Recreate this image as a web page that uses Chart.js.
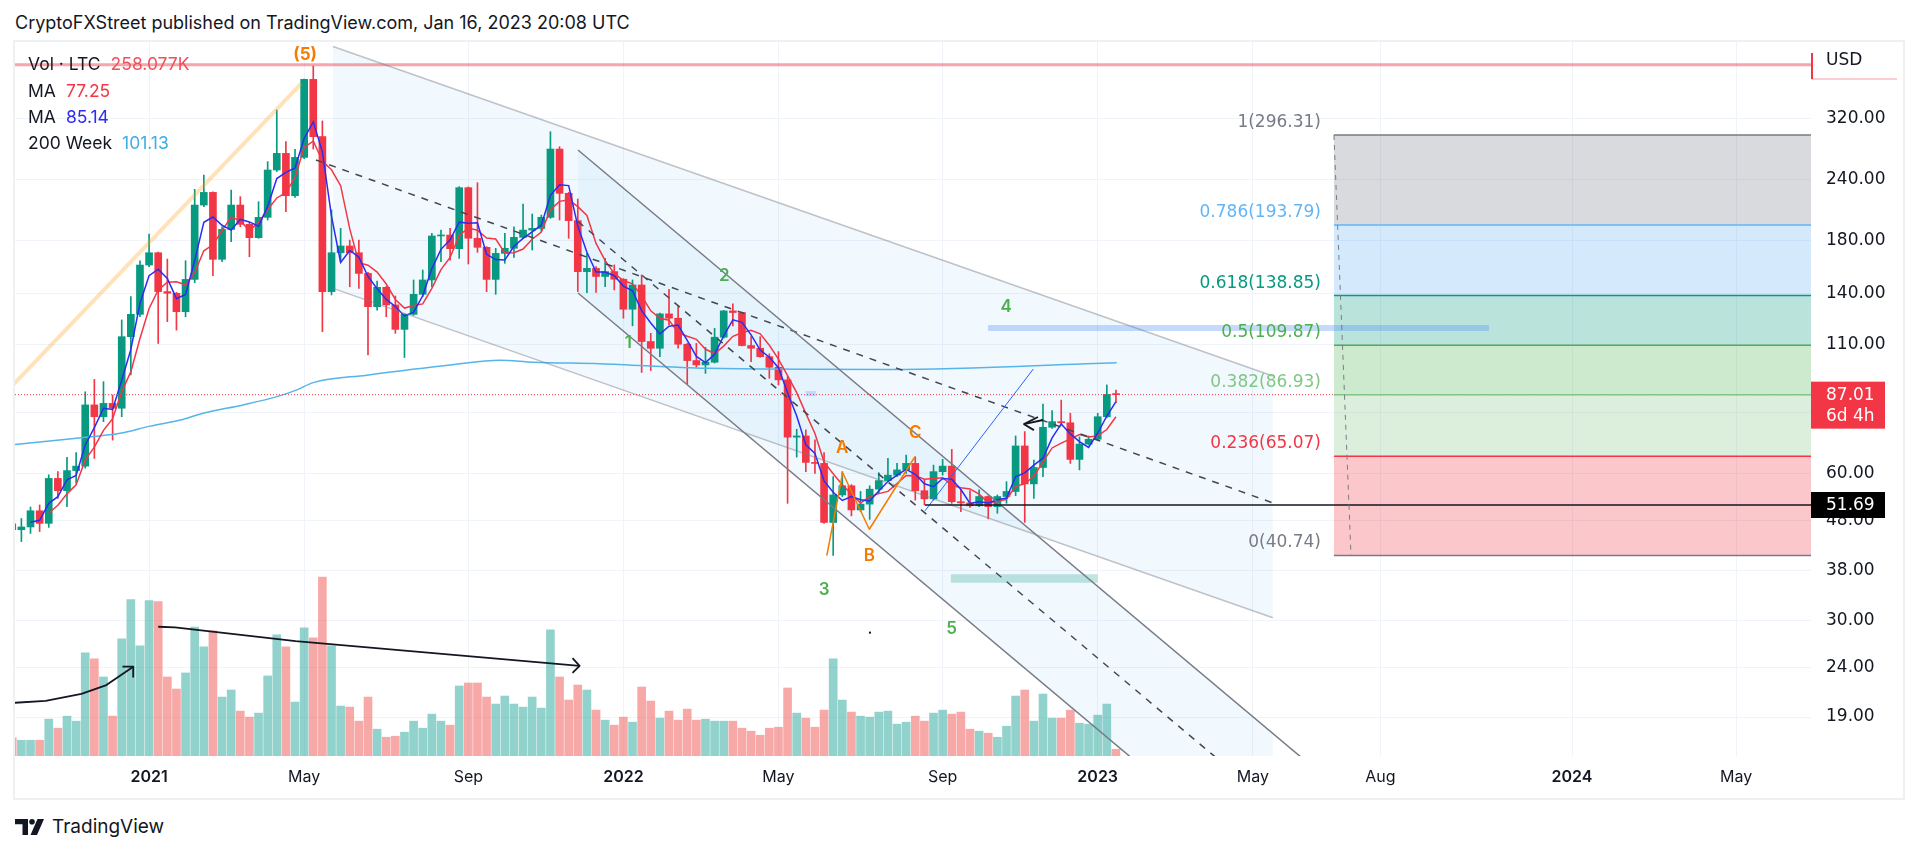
<!DOCTYPE html>
<html>
<head>
<meta charset="utf-8">
<title>LTC/USD weekly — CryptoFXStreet</title>
<script src="https://cdn.jsdelivr.net/npm/chart.js@4.4.1/dist/chart.umd.min.js"></script>
<style>
  html, body { margin: 0; padding: 0; background: #fff; }
  body { width: 1919px; height: 852px; position: relative; overflow: hidden;
         font-family: Inter, 'Noto Sans', sans-serif; color: #131722; }
  #title  { position: absolute; left: 15px; top: 12px; font-size: 18px; line-height: 21px; white-space: nowrap; }
  #frame  { position: absolute; left: 13px; top: 40px; width: 1888px; height: 756px; border: 2px solid #eef0f3; }
  #wrap   { position: absolute; left: 15px; top: 42px; width: 1888px; height: 756px; }
  .leg    { position: absolute; left: 28px; font-size: 17.5px; line-height: 20px; white-space: nowrap; z-index: 2; }
  .leg b  { font-weight: 400; margin-left: 10px; }
  #logo   { position: absolute; left: 15px; top: 815px; display: flex; align-items: center; gap: 8px;
            font-size: 19px; color: #131722; }
</style>
</head>
<body>
<div id="title">CryptoFXStreet published on TradingView.com, Jan 16, 2023 20:08 UTC</div>
<div id="frame"></div>
<div id="wrap"><canvas id="ltc" width="1888" height="756"></canvas></div>

<div class="leg" style="top:54px">Vol · LTC<b style="color:#f0505c">258.077K</b></div>
<div class="leg" style="top:81px">MA<b style="color:#f23645">77.25</b></div>
<div class="leg" style="top:107px">MA<b style="color:#2b2bf5">85.14</b></div>
<div class="leg" style="top:133px">200 Week<b style="color:#3eaee8">101.13</b></div>

<div id="logo">
  <svg width="29" height="16" viewBox="0 0 29 16"><path d="M0 0h13v16H7.5V5.2H0z" fill="#131722"/><circle cx="17" cy="2.8" r="2.8" fill="#131722"/><path d="M22.5 0H29l-7 16h-6.5z" fill="#131722"/></svg>
  <span>TradingView</span>
</div>

<script>
// ══════════════════════════════════════════════════════════════
// DATA — LTC/USD weekly, first bar = week of 21 Sep 2020
// ══════════════════════════════════════════════════════════════
const opens = [
    47.3, 46.0, 46.6, 50.3, 47.4, 58.6, 55.3, 60.8, 62.1, 82.9,
    78.4, 83.5, 81.6, 114.4, 127.1, 160.4, 170.0, 141.5, 140.4, 128.7,
    149.9, 212.9, 226.0, 164.8, 189.8, 212.9, 194.4, 182.5, 200.9, 251.2,
    271.7, 222.5, 266.6, 385.3, 294.0, 141.5, 170.0, 175.5, 170.0, 154.2,
    131.8, 144.4, 132.9, 118.4, 127.1, 139.7, 149.5, 184.0, 184.8, 173.3,
    231.1, 182.0, 174.4, 149.9, 169.5, 173.6, 182.8, 189.2, 190.7, 200.9,
    277.3, 225.0, 197.8, 155.5, 157.9, 152.0, 155.5, 150.0, 130.2, 146.0,
    111.8, 108.3, 127.4, 124.8, 110.4, 102.2, 100.1, 101.4, 114.1, 129.2,
    128.2, 109.7, 108.3, 104.1, 99.0, 93.3, 71.2, 71.6, 63.2, 62.9,
    47.6, 54.2, 56.6, 50.5, 51.9, 55.7, 58.0, 59.5, 61.0, 62.9,
    55.3, 53.2, 60.5, 62.1, 52.5, 52.2, 51.5, 53.8, 51.3, 53.8,
    55.1, 68.3, 57.1, 61.7, 74.6, 76.6, 76.2, 64.1, 68.9, 70.5,
    78.4, 87.1
];
const highs = [
    48.0, 48.5, 51.2, 51.7, 59.6, 60.5, 64.7, 66.2, 88.2, 93.5,
    92.5, 86.9, 123.8, 138.2, 163.7, 185.7, 170.5, 165.0, 141.0, 163.7,
    229.3, 245.3, 226.5, 192.2, 228.5, 221.5, 196.0, 216.3, 261.3, 333.4,
    287.1, 276.9, 386.0, 410.3, 316.6, 208.0, 190.7, 180.5, 180.5, 155.0,
    148.8, 145.0, 138.6, 127.5, 149.5, 156.7, 186.3, 189.2, 190.7, 232.2,
    232.0, 236.6, 175.0, 173.6, 186.3, 192.2, 213.9, 204.1, 203.1, 301.0,
    280.4, 226.0, 219.1, 169.5, 159.2, 165.6, 160.5, 150.5, 149.5, 153.1,
    116.2, 127.8, 143.1, 131.8, 110.8, 110.8, 108.8, 119.0, 129.5, 133.5,
    128.5, 114.4, 114.4, 105.5, 106.6, 94.7, 73.9, 73.7, 70.3, 66.2,
    59.1, 60.5, 56.9, 55.1, 56.6, 60.2, 64.4, 62.9, 65.4, 64.9,
    58.2, 62.4, 64.1, 67.2, 55.5, 55.3, 55.5, 54.0, 54.2, 57.7,
    71.6, 73.1, 63.9, 83.2, 80.7, 84.8, 79.7, 71.3, 71.6, 79.7,
    91.1, 88.9
];
const lows = [
    44.8, 43.5, 45.2, 45.6, 46.5, 53.3, 51.3, 57.3, 61.5, 64.4,
    76.6, 70.2, 78.4, 95.5, 125.7, 159.2, 110.8, 122.8, 118.0, 125.7,
    147.6, 211.3, 152.5, 163.0, 179.1, 192.2, 166.8, 182.0, 198.4, 249.3,
    206.3, 220.8, 265.0, 277.3, 117.1, 139.3, 163.0, 144.8, 143.7, 104.9,
    129.7, 125.7, 116.2, 103.7, 126.5, 138.2, 144.8, 163.0, 164.2, 165.5,
    161.2, 170.3, 141.5, 139.7, 161.7, 166.3, 182.0, 172.2, 188.0, 200.0,
    198.4, 182.0, 141.5, 140.8, 140.9, 144.9, 142.6, 124.8, 120.4, 96.6,
    97.5, 104.1, 120.9, 108.3, 91.5, 99.0, 96.2, 101.0, 113.6, 120.4,
    109.5, 101.7, 103.8, 94.0, 91.1, 52.1, 64.8, 60.5, 60.0, 47.4,
    40.74, 53.8, 49.1, 50.1, 48.3, 54.6, 57.7, 59.1, 60.0, 52.9,
    51.7, 52.9, 59.5, 52.1, 50.1, 51.1, 51.3, 48.4, 49.7, 52.1,
    54.0, 47.6, 53.3, 59.1, 74.2, 75.4, 62.9, 61.0, 68.6, 70.2,
    78.0, 83.8
];
const closes = [
    46.0, 46.6, 50.3, 47.4, 58.6, 55.3, 60.8, 62.1, 82.9, 78.4,
    83.5, 81.6, 114.4, 127.1, 160.4, 170.0, 141.5, 140.4, 128.7, 149.9,
    212.9, 226.0, 164.8, 189.8, 212.9, 194.4, 182.5, 200.9, 251.2, 271.7,
    222.5, 266.6, 385.3, 294.0, 141.5, 170.0, 175.5, 170.0, 154.2, 131.8,
    144.4, 132.9, 118.4, 127.1, 139.7, 149.5, 184.0, 184.8, 173.3, 231.1,
    182.0, 174.4, 149.9, 169.5, 173.6, 182.8, 189.2, 190.7, 200.9, 277.3,
    225.0, 197.8, 155.5, 157.9, 152.0, 155.5, 150.0, 130.2, 146.0, 111.8,
    108.3, 127.4, 124.8, 110.4, 102.2, 100.1, 101.4, 114.1, 129.2, 128.2,
    109.7, 108.3, 104.1, 99.0, 93.3, 71.2, 71.6, 63.2, 62.9, 47.6,
    54.2, 56.6, 50.5, 51.9, 55.7, 58.0, 59.5, 61.0, 62.9, 55.3,
    53.2, 60.5, 62.1, 52.5, 52.2, 51.5, 53.8, 51.3, 53.8, 55.1,
    68.3, 57.1, 61.7, 74.6, 76.6, 76.2, 64.1, 68.9, 70.5, 78.4,
    87.1, 87.01
];
// weekly volume, thousand LTC
const volumes = [
    697, 606, 606, 606, 1419, 1071, 1535, 1342, 3973, 3741,
    3044, 1535, 4515, 6024, 4244, 5986, 5947, 3044, 2580, 3199,
    4967, 4205, 4825, 2270, 2541, 1729, 1496, 1651, 3083, 4670,
    4205, 2077, 4941, 4554, 6889, 4244, 1922, 1883, 1342, 2270,
    1032, 722, 761, 916, 1342, 1071, 1613, 1342, 1187, 2696,
    2812, 2812, 2270, 2000, 2309, 2000, 1883, 2270, 1845, 4863,
    3044, 2154, 2735, 2541, 1767, 1380, 1187, 1496, 1303, 2657,
    2116, 1458, 1729, 1380, 1806, 1380, 1419, 1342, 1342, 1342,
    1071, 955, 800, 1071, 1109, 2619, 1651, 1458, 1109, 1767,
    3741, 2154, 1690, 1535, 1496, 1690, 1729, 1226, 1303, 1535,
    1342, 1651, 1767, 1613, 1690, 1032, 955, 877, 722, 1148,
    2309, 2541, 1342, 2387, 1458, 1458, 1767, 1264, 1226, 1574,
    2000, 258.077
];
// 200-week MA (week index, price)
const ma200Week  = [-0.25, 7.06, 11.81, 15.1, 18.71, 20.91, 25.29, 29.02, 31.21, 33.0, 38.86, 47.99, 53.47, 57.09, 64.43, 76.13, 96.23, 121.08];
const ma200Value = [68.6, 70.8, 72.5, 75.0, 77.4, 79.7, 82.9, 86.2, 89.0, 92.1, 95.4, 100.1, 102.4, 101.4, 100.7, 98.5, 98.0, 101.13];

// axes
const xTickWeek = [15, 32, 50, 67, 84, 102, 119, 136, 150, 171, 189];
const xTickText = ['2021', 'May', 'Sep', '2022', 'May', 'Sep', '2023', 'May', 'Aug', '2024', 'May'];
const yTicks    = [320, 240, 180, 140, 110, 80, 60, 48, 38, 30, 24, 19];

// fibonacci retracement
const fibRatio = ['1', '0.786', '0.618', '0.5', '0.382', '0.236', '0'];
const fibPrice = [296.31, 193.79, 138.85, 109.87, 86.93, 65.07, 40.74];

// drawings, anchored as [week index, price]
const athLevel     = 413;
const lastPrice    = 87.01;
const supportLevel = 51.69;
const orangeRun    = [[-0.3, 89.5], [31.7, 378]];
const bigUpper     = [[35.16, 449.9], [138.2, 95.0]];
const bigLower     = [[35.16, 143.7], [138.2, 30.35]];
const bigMid       = [[33.3, 263.3], [138.2, 52.2]];
const steepUpper   = [[62.02, 276.1], [143.4, 14.57]];
const steepLower   = [[62.02, 140.6], [123.1, 15.45]];
const steepMid     = [[62.02, 197.0], [133.5, 14.85]];
const waveAbc      = [[89.3, 40.7], [91.04, 60.2], [93.96, 46.1], [98.96, 64.9]];
const blueRay      = [[100.07, 50.3], [111.94, 98.2]];
const fibDiag      = [[144.9, 296.31], [146.77, 40.74]];
const targetBand   = [[106.97, 120.9], [161.9, 117.5]];
const tealBand     = [[102.9, 37.3], [119.0, 35.8]];
const smallBox     = [[87.0, 88.5], [88.1, 86.4]];
const volRise      = [[-0.25, 20.3], [3.66, 20.5], [7.58, 21.2], [10.32, 22.1], [13.26, 24.1]];
const volRiseHead  = [[12.08, 24.1], [13.26, 24.1], [13.26, 22.9]];
const volFall      = [[16.0, 29.1], [17.84, 29.0], [31.07, 27.2], [50.26, 25.3], [62.2, 24.2]];
const volFallHead  = [[61.42, 25.1], [62.2, 24.2], [61.42, 23.4]];
const backArrow    = [[112.45, 78.3], [110.92, 75.7], [112.01, 73.6]];
const backShaft    = [[110.92, 75.7], [113.0, 77.2]];
const waveLabels   = [['1', 67.53, 110.9], ['2', 78.06, 152.3], ['3', 89.02, 34.6], ['4', 108.95, 131.4], ['5', 102.99, 28.8]];
const abcLabels    = [['A', 90.99, 67.6], ['B', 93.96, 40.7], ['C', 99.0, 72.5]];
const peakLabel    = ['(5)', 32.1, 432];
const strayDot     = [94.03, 28.3];

// ══════════════════════════════════════════════════════════════
// HELPERS
// ══════════════════════════════════════════════════════════════
const GREEN = '#089981', RED = '#f23645';
const X_MIN = 0.3, X_MAX = 197.2;
const FONT = 'Inter, "Noto Sans", sans-serif';
const NUM  = '"DejaVu Sans", Inter, sans-serif';

const isUp = closes.map((c, k) => c >= opens[k]);
const sma  = n => closes.map((_, k) => k < n - 1 ? null
                 : closes.slice(k - n + 1, k + 1).reduce((s, v) => s + v, 0) / n);

const toPx  = (chart, [i, p]) => [chart.scales.x.getPixelForValue(i), chart.scales.y.getPixelForValue(p)];
const logAt = ([[i0, p0], [i1, p1]], i) =>
    Math.exp(Math.log(p0) + (i - i0) / (i1 - i0) * (Math.log(p1) - Math.log(p0)));

const path = (chart, pts, stroke, width, dash = []) => {
    const { ctx } = chart;
    ctx.beginPath();
    pts.forEach((p, k) => { const [x, y] = toPx(chart, p); k ? ctx.lineTo(x, y) : ctx.moveTo(x, y); });
    ctx.strokeStyle = stroke; ctx.lineWidth = width; ctx.setLineDash(dash);
    ctx.lineJoin = 'round'; ctx.lineCap = 'butt';
    ctx.stroke(); ctx.setLineDash([]);
};
const polygon = (chart, pts, fill) => {
    const { ctx } = chart;
    ctx.beginPath();
    pts.forEach((p, k) => { const [x, y] = toPx(chart, p); k ? ctx.lineTo(x, y) : ctx.moveTo(x, y); });
    ctx.closePath(); ctx.fillStyle = fill; ctx.fill();
};
const box = (chart, [[i0, p0], [i1, p1]], fill) =>
    polygon(chart, [[i0, p0], [i1, p0], [i1, p1], [i0, p1]], fill);
const label = (chart, text, i, p, color, font, align = 'center', base = 'middle') => {
    const { ctx } = chart;
    const [x, y] = toPx(chart, [i, p]);
    ctx.font = font; ctx.fillStyle = color; ctx.textAlign = align; ctx.textBaseline = base;
    ctx.fillText(text, x, y);
};
const clip = ({ ctx, chartArea: a }) => { ctx.beginPath(); ctx.rect(a.left, a.top, a.width, a.height); ctx.clip(); };

// ══════════════════════════════════════════════════════════════
// DRAWINGS PLUGIN
// ══════════════════════════════════════════════════════════════
const fibLine = ['#787b86', '#64b5f6', '#089981', '#4caf50', '#81c784', '#f23645', '#787b86'];
const fibZone = ['rgba(120,123,134,0.28)', 'rgba(100,181,246,0.28)', 'rgba(8,153,129,0.28)',
                 'rgba(76,175,80,0.28)', 'rgba(129,199,132,0.28)', 'rgba(242,54,69,0.28)'];

const drawings = {
    id: 'drawings',
    beforeDatasetsDraw(chart) {
        const { ctx } = chart;
        ctx.save(); clip(chart);
        // channels
        const end = bigUpper[1][0];
        [[bigUpper, bigLower], [steepUpper, steepLower]].forEach(([up, lo]) => {
            const s = up[0][0];
            polygon(chart, [[s, logAt(up, s)], [end, logAt(up, end)], [end, logAt(lo, end)], [s, logAt(lo, s)]],
                    'rgba(33,150,243,0.06)');
        });
        // fib zones
        for (let k = 0; k < fibPrice.length - 1; k++)
            box(chart, [[fibDiag[0][0], fibPrice[k]], [X_MAX, fibPrice[k + 1]]], fibZone[k]);
        box(chart, tealBand, 'rgba(8,153,129,0.25)');
        box(chart, smallBox, 'rgba(41,98,255,0.2)');
        ctx.restore();
    },
    afterDatasetsDraw(chart) {
        const { ctx } = chart;
        ctx.save(); clip(chart);

        path(chart, [[X_MIN, athLevel], [X_MAX, athLevel]], 'rgba(242,54,69,0.45)', 3);
        path(chart, orangeRun, 'rgba(255,152,0,0.28)', 4);

        path(chart, bigUpper, 'rgba(120,123,134,0.45)', 1.5);
        path(chart, bigLower, 'rgba(120,123,134,0.45)', 1.5);
        path(chart, bigMid, '#434651', 1.5, [7, 7]);
        path(chart, steepUpper, '#787b86', 1.5);
        path(chart, steepLower, '#787b86', 1.5);
        path(chart, steepMid, '#434651', 1.5, [7, 7]);

        path(chart, waveAbc, '#f57c00', 1.5);
        path(chart, blueRay, '#2962ff', 1);
        path(chart, [[blueRay[0][0], supportLevel], [X_MAX, supportLevel]], '#131722', 1.5);
        path(chart, [[X_MIN, lastPrice], [X_MAX, lastPrice]], RED, 1, [1, 2]);

        box(chart, targetBand, 'rgba(66,133,244,0.3)');

        // fib levels + labels
        fibPrice.forEach((p, k) => {
            path(chart, [[fibDiag[0][0], p], [X_MAX, p]], fibLine[k], 1.5);
            const [x, y] = toPx(chart, [fibDiag[0][0], p]);
            ctx.font = `17px ${NUM}`; ctx.fillStyle = fibLine[k];
            ctx.textAlign = 'right'; ctx.textBaseline = 'bottom';
            ctx.fillText(`${fibRatio[k]}(${p.toFixed(2)})`, x - 13, y - 4);
        });
        path(chart, fibDiag, '#787b86', 1, [5, 5]);

        // hand-drawn arrows
        [volRise, volRiseHead, volFall, volFallHead, backArrow, backShaft]
            .forEach(pts => path(chart, pts, '#131722', 1.8));
        const [dx, dy] = toPx(chart, strayDot);
        ctx.fillStyle = '#131722'; ctx.fillRect(dx - 1, dy - 1, 2, 2);

        // wave labels
        label(chart, peakLabel[0], peakLabel[1], peakLabel[2], '#f57c00', `bold 17px ${FONT}`);
        waveLabels.forEach(([t, i, p]) => label(chart, t, i, p, '#4caf50', `600 17px ${FONT}`));
        abcLabels.forEach(([t, i, p]) => label(chart, t, i, p, '#f57c00', `600 17px ${FONT}`));
        ctx.restore();
    },
    afterDraw(chart) {
        const { ctx, chartArea: a, scales: { y } } = chart;
        ctx.save();
        // currency label
        ctx.fillStyle = RED; ctx.fillRect(a.right, 11, 2, 26);
        ctx.fillStyle = 'rgba(242,54,69,0.25)'; ctx.fillRect(a.right, 36, 86, 2);
        ctx.font = `17px ${NUM}`; ctx.fillStyle = '#131722';
        ctx.textAlign = 'left'; ctx.textBaseline = 'middle';
        ctx.fillText('USD', a.right + 15, 19);
        // last price badge
        const yp = y.getPixelForValue(lastPrice);
        ctx.fillStyle = RED; ctx.fillRect(a.right, yp - 13, 74, 47);
        ctx.fillStyle = '#fff';
        ctx.fillText(lastPrice.toFixed(2), a.right + 15, yp + 1);
        ctx.fillText('6d 4h', a.right + 15, yp + 22);
        // support badge
        const ys = y.getPixelForValue(supportLevel);
        ctx.fillStyle = '#000'; ctx.fillRect(a.right, ys - 13, 74, 26);
        ctx.fillStyle = '#fff';
        ctx.fillText(supportLevel.toFixed(2), a.right + 15, ys + 1);
        ctx.restore();
    }
};

// ══════════════════════════════════════════════════════════════
// CHART
// ══════════════════════════════════════════════════════════════
const candleColor = isUp.map(u => u ? GREEN : RED);
const volColor    = isUp.map(u => u ? 'rgba(38,166,154,0.5)' : 'rgba(239,83,80,0.5)');

new Chart(document.getElementById('ltc'), {
    type: 'bar',
    data: {
        datasets: [
            { type: 'line', label: 'MA blue', order: 0,
              data: sma(3).map((y, x) => ({ x, y })), borderColor: '#2b2bf5', borderWidth: 1.5,
              pointRadius: 0, yAxisID: 'y' },
            { type: 'line', label: 'MA red', order: 1,
              data: sma(5).map((y, x) => ({ x, y })), borderColor: RED, borderWidth: 1.5,
              pointRadius: 0, yAxisID: 'y' },
            { type: 'line', label: '200 Week', order: 2,
              data: ma200Week.map((x, k) => ({ x, y: ma200Value[k] })), borderColor: '#56b4e9',
              borderWidth: 1.5, pointRadius: 0, cubicInterpolationMode: 'monotone', yAxisID: 'y' },
            { label: 'body', order: 3, grouped: false, barThickness: 7, minBarLength: 1,
              data: opens.map((o, k) => ({ x: k, y: [o, closes[k]] })),
              backgroundColor: candleColor, yAxisID: 'y' },
            { label: 'wick', order: 4, grouped: false, barThickness: 1,
              data: lows.map((l, k) => ({ x: k, y: [l, highs[k]] })),
              backgroundColor: candleColor, yAxisID: 'y' },
            { label: 'Vol', order: 5, grouped: false, barThickness: 8,
              data: volumes.map((v, k) => ({ x: k, y: v })),
              backgroundColor: volColor, yAxisID: 'yv' }
        ]
    },
    options: {
        responsive: false,
        animation: false,
        layout: { padding: 0 },
        plugins: { legend: { display: false }, tooltip: { enabled: false } },
        scales: {
            x: {
                type: 'linear', min: X_MIN, max: X_MAX, offset: false,
                afterBuildTicks: s => { s.ticks = xTickWeek.map(value => ({ value })); },
                afterFit: s => { s.height = 42; s.paddingLeft = 0; s.paddingRight = 0; },
                grid: { color: '#f0f3fa', drawTicks: false, offset: false },
                border: { display: false },
                ticks: {
                    autoSkip: false, maxRotation: 0, padding: 12, color: '#131722',
                    callback: (v, k) => xTickText[k],
                    font: c => ({ family: FONT, size: 16, weight: /^\d{4}$/.test(xTickText[c.index] || '') ? '600' : '400' })
                }
            },
            y: {
                type: 'logarithmic', position: 'right', min: 15.81, max: 459.6,
                afterBuildTicks: s => { s.ticks = yTicks.map(value => ({ value })); },
                afterFit: s => { s.width = 92; s.paddingTop = 0; s.paddingBottom = 0; },
                grid: { color: '#f0f3fa', drawTicks: false },
                border: { display: false },
                ticks: { autoSkip: false, padding: 15, color: '#131722',
                         font: { family: NUM, size: 17 }, callback: v => Number(v).toFixed(2) }
            },
            yv: { type: 'linear', display: false, min: 0, max: 27500 }
        }
    },
    plugins: [drawings]
});
</script>
</body>
</html>
